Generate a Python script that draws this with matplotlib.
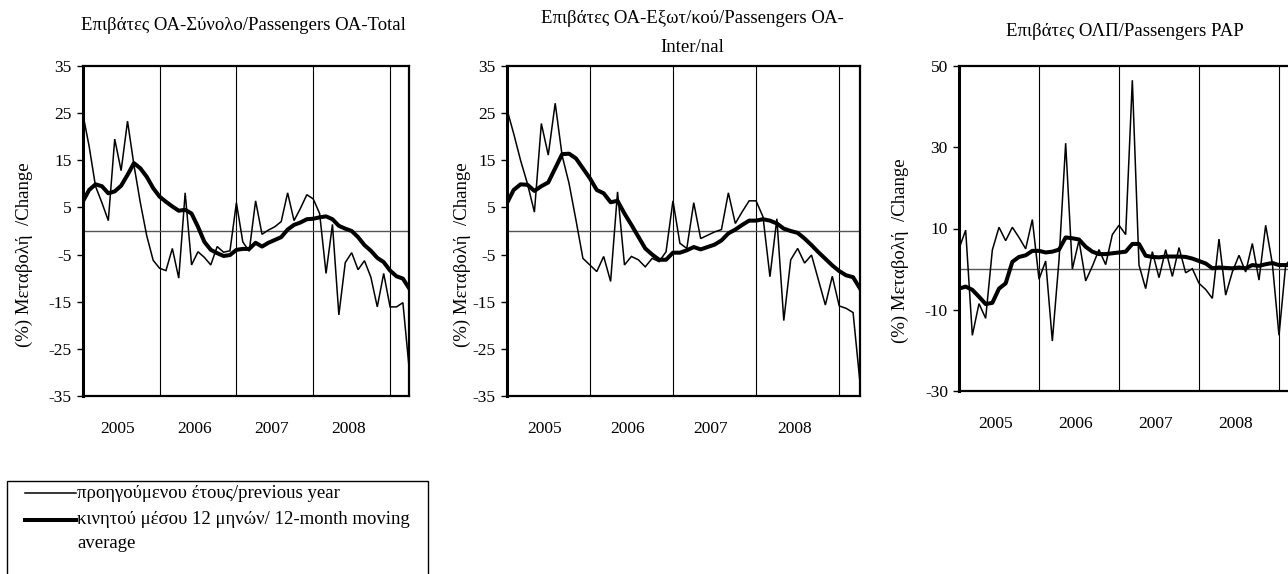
import matplotlib
matplotlib.use("Agg")
import matplotlib.pyplot as plt
from matplotlib.lines import Line2D
from matplotlib.patches import Rectangle
import numpy as np

plt.rcParams['font.family'] = ['Liberation Serif', 'DejaVu Serif']

# Monthly data Jan 2005 - Apr 2009 (52 months)
total_yoy = [25, 18, 9.5, 6, 2.2, 19.5, 12.8, 23.3, 14, 6, -1, -6.2, -7.9, -8.4,
             -3.7, -10, 8.1, -7.2, -4.4, -5.6, -7.2, -3.3, -4.5, -4.2, 6.0, -2.3,
             -4.3, 6.4, -0.7, 0.2, 0.9, 2.0, 8.1, 2.2, 4.8, 7.7, 6.8, 3.7, -9.0,
             1.4, -17.8, -6.7, -4.6, -8.2, -6.3, -9.8, -16.1, -9.0, -16.1, -16.1,
             -15.2, -29.5]
total_ma = [6.2, 8.7, 9.9, 9.5, 8.0, 8.4, 9.6, 11.9, 14.4, 13.3, 11.5, 9.1, 7.3,
            6.2, 5.2, 4.3, 4.5, 3.7, 0.9, -2.3, -4.0, -4.7, -5.3, -5.1, -4.0, -3.8,
            -3.8, -2.5, -3.3, -2.5, -1.9, -1.3, 0.3, 1.3, 1.8, 2.5, 2.6, 2.9, 3.1,
            2.5, 1.1, 0.5, 0.0, -1.3, -3.0, -4.2, -5.7, -6.6, -8.4, -9.6, -10.1,
            -12.2]

intl_yoy = [26, 20.7, 15, 10, 4.0, 22.8, 16.1, 27.1, 16, 10.1, 2.3, -5.8, -7.2,
            -8.6, -5.4, -10.7, 8.3, -7.2, -5.4, -6.1, -7.6, -5.8, -6.5, -4.4, 6.4,
            -2.6, -3.7, 6.0, -1.6, -0.9, -0.2, 0.3, 8.1, 1.6, 4.1, 6.4, 6.4, 3.0,
            -9.7, 2.6, -19.0, -6.1, -3.7, -6.8, -5.1, -10.4, -15.7, -9.6, -15.9,
            -16.4, -17.3, -32.2]
intl_ma = [5.8, 8.7, 9.9, 9.8, 8.5, 9.5, 10.3, 13.3, 16.3, 16.4, 15.4, 13.3, 11.2,
           8.7, 8.0, 6.1, 6.4, 3.7, 1.3, -1.2, -3.7, -5.0, -6.1, -6.1, -4.6, -4.6,
           -4.1, -3.4, -3.9, -3.4, -2.9, -2.0, -0.5, 0.3, 1.3, 2.2, 2.2, 2.5, 2.2,
           1.6, 0.5, 0.0, -0.4, -1.6, -3.0, -4.5, -5.9, -7.3, -8.5, -9.4, -9.8,
           -12.2]

pap_yoy = [5.0, 9.6, -16.3, -8.5, -12.1, 4.7, 10.3, 7.0, 10.3, 7.8, 5.0, 12.2,
           -2.5, 2.0, -17.7, 2.2, 31.0, 0.0, 7.1, -2.9, 0.7, 4.8, 1.1, 8.5, 10.8,
           8.5, 46.5, 1.0, -4.8, 4.3, -2.1, 4.8, -1.8, 5.3, -0.9, 0.1, -3.5, -5.0,
           -7.2, 7.4, -6.4, -0.7, 3.4, -0.7, 6.3, -2.7, 10.8, 1.4, -16.3, 1.0,
           3.0, -3.0]
pap_ma = [-4.8, -4.3, -5.1, -6.8, -8.6, -8.3, -4.8, -3.5, 1.8, 3.0, 3.4, 4.5, 4.5,
          4.1, 4.3, 4.8, 7.8, 7.6, 7.3, 5.5, 4.3, 3.7, 3.7, 3.9, 4.1, 4.3, 6.2,
          6.2, 3.3, 3.0, 2.9, 3.1, 3.1, 3.1, 3.0, 2.6, 2.0, 1.4, 0.2, 0.4, 0.3,
          0.2, 0.4, 0.2, 1.0, 0.8, 1.2, 1.5, 1.0, 1.0, 1.0, 1.0]

year_labels = ['2005', '2006', '2007', '2008']
year_starts = [0, 12, 24, 36, 48]
yticks_oa = [-35, -25, -15, -5, 5, 15, 25, 35]
yticks_pap = [-30, -10, 10, 30, 50]

titles = ['Επιβάτες ΟΑ-Σύνολο/Passengers ΟΑ-Total',
          'Επιβάτες ΟΑ-Εξωτ/κού/Passengers ΟΑ-\nInter/nal',
          'Επιβάτες ΟΛΠ/Passengers PAP']
ylabel = '(%) Μεταβολή  /Change'
legend_labels = ['προηγούμενου έτους/previous year',
                 'κινητού μέσου 12 μηνών/ 12-month moving\naverage']

W, H = 1288, 574
fig = plt.figure(figsize=(W / 100, H / 100), dpi=100)


def px_axes(l, t, r, b):
    return [l / W, 1 - b / H, (r - l) / W, (b - t) / H]


panels = [
    (px_axes(82.7, 66, 409.3, 396), total_yoy, total_ma, yticks_oa, (-35, 35)),
    (px_axes(506.7, 66, 860, 396), intl_yoy, intl_ma, yticks_oa, (-35, 35)),
    (px_axes(959, 66, 1299, 391), pap_yoy, pap_ma, yticks_pap, (-30, 50)),
]

FS = 12.5
for rect, yoy, ma, yt, ylim in panels:
    ax = fig.add_axes(rect)
    x = np.arange(len(yoy))
    for xs in year_starts[1:]:
        ax.axvline(xs, color='black', lw=0.8, zorder=1)
    ax.axhline(0, color='#555555', lw=1.0, zorder=1)
    ax.plot(x, yoy, color='black', lw=1.1, zorder=3, solid_joinstyle='miter')
    ax.plot(x, ma, color='black', lw=2.9, zorder=4, solid_joinstyle='round')
    ax.set_xlim(0, 51)
    ax.set_ylim(*ylim)
    ax.set_yticks(yt)
    ax.set_yticklabels([str(v) for v in yt], fontsize=FS)
    ax.set_xticks([s + 5.5 for s in year_starts[:4]])
    ax.set_xticklabels(year_labels, fontsize=FS)
    ax.tick_params(axis='x', length=0, pad=18)
    ax.tick_params(axis='y', direction='out', length=4, width=1, pad=4)
    for side in ['top', 'right', 'bottom']:
        ax.spines[side].set_linewidth(1.6)
    ax.spines['left'].set_linewidth(2.2)


def ftext(xp, yp, s, **kw):
    fig.text(xp / W, 1 - yp / H, s, **kw)


TFS = 13.5
ftext(243, 25, titles[0], fontsize=TFS, ha='center', va='center')
ftext(692, 33, titles[1], fontsize=TFS, ha='center', va='center', linespacing=1.85)
ftext(1125, 32, titles[2], fontsize=TFS, ha='center', va='center')

for xp, yp in [(24, 255), (462, 255), (900, 251)]:
    ftext(xp, yp, ylabel, fontsize=13.5, rotation=90, ha='center', va='center')

# Legend box (extends below the figure edge)
LFS = 13.5
fig.patches.append(Rectangle((7 / W, 1 - 620 / H), (428 - 7) / W, (620 - 480.7) / H,
                             transform=fig.transFigure, fill=False,
                             edgecolor='black', lw=1.0))
fig.lines.append(Line2D([25 / W, 76 / W], [1 - 493 / H, 1 - 493 / H],
                        transform=fig.transFigure, color='black', lw=1.1))
fig.lines.append(Line2D([25 / W, 76 / W], [1 - 520 / H, 1 - 520 / H],
                        transform=fig.transFigure, color='black', lw=2.9))
ftext(77, 493, legend_labels[0], fontsize=LFS, ha='left', va='center')
ftext(77, 520, legend_labels[1].split('\n')[0], fontsize=LFS, ha='left', va='center')
ftext(77, 543, legend_labels[1].split('\n')[1], fontsize=LFS, ha='left', va='center')

fig.savefig('out.png', dpi=100)
